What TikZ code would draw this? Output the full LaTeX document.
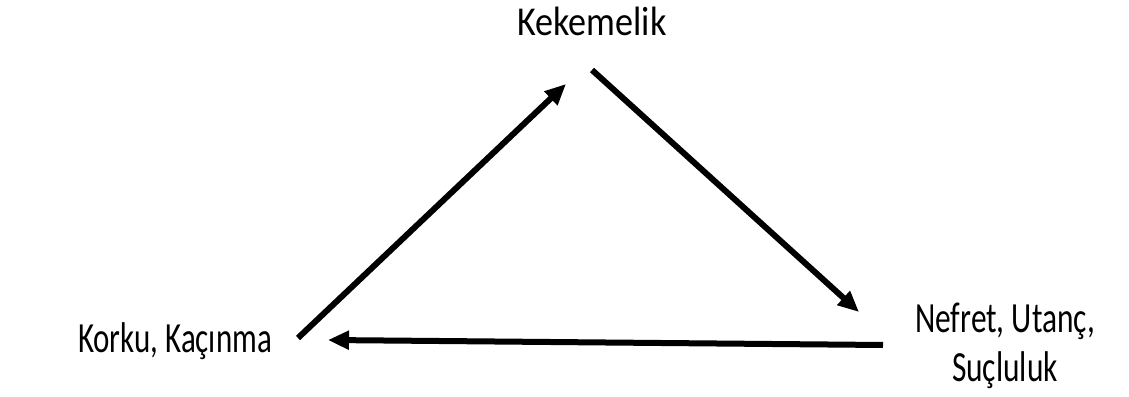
\documentclass[tikz,border=0pt]{standalone}
\usepackage{fontspec}
\setmainfont{Carlito}
\usetikzlibrary{arrows.meta}
\begin{document}
\begin{tikzpicture}[x=1pt,y=1pt,
  lbl/.style={inner sep=0pt, anchor=base, transform shape, align=center, text=black},
  conn/.style={line width=6pt, -{Triangle[length=21pt,width=18pt]}, draw=black}]
\useasboundingbox (0,0) rectangle (1129,396);
\node[lbl, xscale=0.88, font=\fontsize{41}{48}\selectfont] (kek) at (592,360) {Kekemelik};
\node[lbl, xscale=0.72, font=\fontsize{43}{49}\selectfont] (kor) at (175,43) {Korku, Kaçınma};
\node[lbl, xscale=0.73, font=\fontsize{43}{49}\selectfont] (nef) at (1005,14) {Nefret, Utanç,\\Suçluluk};
\coordinate (a1s) at (298,58);
\coordinate (a1e) at (566,312);
\coordinate (a2s) at (592,326);
\coordinate (a2e) at (859,84);
\coordinate (a3s) at (883,51);
\coordinate (a3e) at (328,56);
\draw[conn] (a1s) -- (a1e);
\draw[conn] (a2s) -- (a2e);
\draw[conn] (a3s) -- (a3e);
\end{tikzpicture}
\end{document}
